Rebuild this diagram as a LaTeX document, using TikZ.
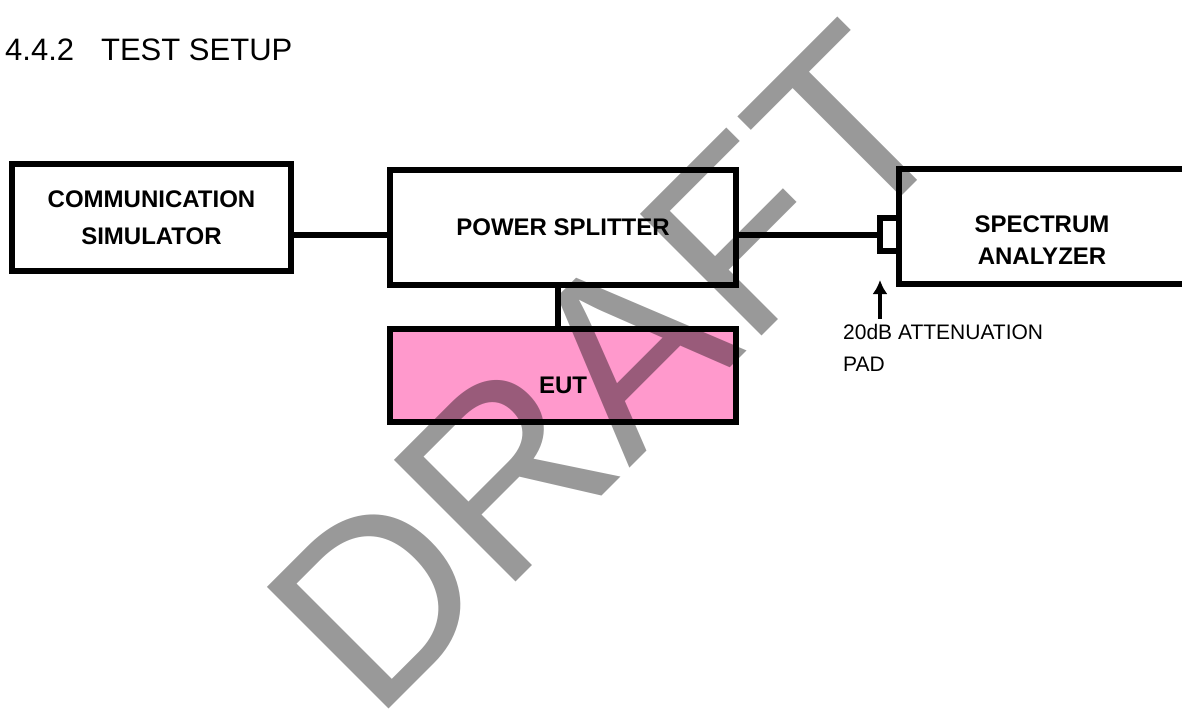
\documentclass[tikz,border=0pt]{standalone}
\usepackage{fontspec}
\setmainfont{Liberation Sans}
\usetikzlibrary{arrows.meta}
\definecolor{eutpink}{RGB}{255,153,204}
\newcommand{\boxfont}{\fontsize{24}{37}\selectfont\bfseries}
\newcommand{\notefont}{\fontsize{21}{32}\selectfont}
\tikzset{
  unit/.style={draw, line width=6pt, outer sep=0pt, inner sep=0pt, font=\boxfont, align=center},
  wire/.style={line width=6pt},
}
\begin{document}
\begin{tikzpicture}[x=1pt, y=-1pt]
  \useasboundingbox (0,0) rectangle (1182,712);
  \clip (0,0) rectangle (1182,712);
  % Heading
  \node[anchor=base west, inner sep=0pt, font=\fontsize{31}{37}\selectfont] (title) at (5,60) {4.4.2\hspace{27pt}TEST SETUP};

  % Units
  \node[unit, minimum width=279pt, minimum height=107pt] (comm) at (151.5,217.5) {COMMUNICATION\\SIMULATOR};
  \node[unit, minimum width=346pt, minimum height=115pt] (split) at (563,227.5) {POWER SPLITTER};
  \node[unit, fill=eutpink, minimum width=346pt, minimum height=93pt,
        label={[font=\boxfont, yshift=-9.5pt]center:EUT}] (eut) at (563,375.5) {};
  \node[unit, minimum width=286pt, minimum height=115pt,
        label={[font=\fontsize{24}{32}\selectfont\bfseries, align=center, yshift=-14pt]center:SPECTRUM\\ANALYZER}] (sa) at (1042,226.5) {};

  % Attenuation pad
  \node[draw, line width=6pt, outer sep=0pt, inner sep=0pt, minimum width=19pt, minimum height=33pt] (pad) at (889.5,234.5) {};
  \node[anchor=north west, inner sep=0pt, align=left, font=\notefont] (attn) at (843,324.5) {20dB ATTENUATION\\PAD};

  % Cables
  \draw[wire] (comm.east |- pad.west) -- (split.west |- pad.west);
  \draw[wire] (split.east |- pad.west) -- (pad.west);
  \draw[wire] ([xshift=-5pt]split.south) -- ([xshift=-5pt]eut.north);
  \draw[-{Latex[length=14pt,width=15pt]}, line width=4pt, shorten <=6pt, shorten >=29pt] (pad.south west |- attn.north) -- (pad.south west);

  % Watermark
  \node[anchor=base west, inner sep=0pt, rotate=45, text=black, text opacity=0.4,
        font=\fontsize{250}{250}\selectfont] (draft) at (374,724) {DRAFT};
\end{tikzpicture}
\end{document}
